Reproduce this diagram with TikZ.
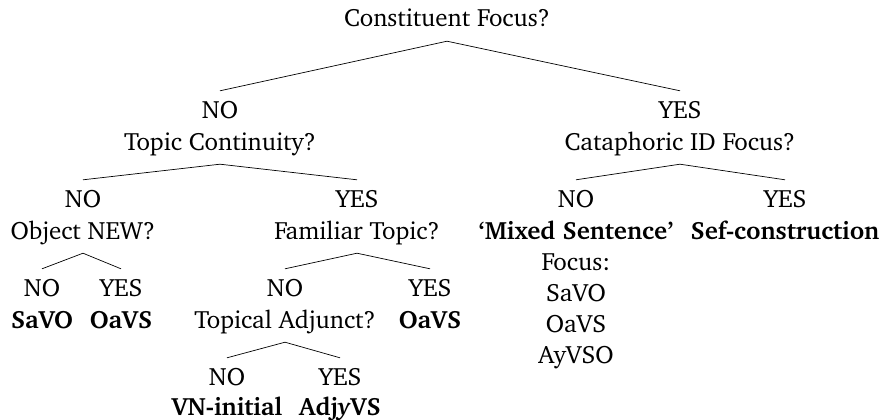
\documentclass[tikz,border=0pt]{standalone}
\usepackage[T1]{fontenc}
\usepackage{charter}
\tikzset{
  lbl/.style={font=\fontsize{25}{30}\selectfont,text height=18pt,text depth=5pt,inner sep=9pt,anchor=base},
  res/.style={lbl,font=\fontsize{25}{30}\selectfont\bfseries},
  edge/.style={line width=0.7pt,draw=black},
}
\begin{document}
\begin{tikzpicture}[x=1pt,y=-1pt]
  \useasboundingbox (0,0) rectangle (883,420);
  % questions and answers
  \foreach \n/\x/\y/\t in {root/447/27/{Constituent Focus?},
      noA/220/118/NO,tc/220/150/{Topic Continuity?},
      yesA/680/118/YES,cf/680/150/{Cataphoric ID Focus?},
      noB/83/207/NO,on/83/239/{Object NEW?},
      yesB/357/207/YES,ft/357/239/{Familiar Topic?},
      noC/576/207/NO,yesC/785/207/YES,
      noD/42/296/NO,yesD/121/296/YES,
      noE/285/296/NO,ta/285/328/{Topical Adjunct?},yesE/430/296/YES,
      noF/227/385/NO,yesF/340/385/YES,
      fc/576/270/{Focus:},fc1/576/301/SaVO,fc2/576/332/OaVS,fc3/576/363/AyVSO} {
    \node[lbl] (\n) at (\x,\y) {\t};
  }
  % outcomes
  \foreach \n/\x/\y/\t in {ms/576/239/{`Mixed Sentence'},sc/785/239/{Sef-construction},
      sv/42/328/SaVO,ov/121/328/OaVS,ov2/430/328/OaVS,
      vn/227/415/{VN-initial},ad/340/415/{Adj\textit{y}VS}} {
    \node[res] (\n) at (\x,\y) {\t};
  }
  % branches
  \foreach \a/\b in {root/noA,root/yesA,tc/noB,tc/yesB,cf/noC,cf/yesC,
      on/noD,on/yesD,ft/noE,ft/yesE,ta/noF,ta/yesF}
    \draw[edge] (\a.south) -- (\b.north);
\end{tikzpicture}
\end{document}
